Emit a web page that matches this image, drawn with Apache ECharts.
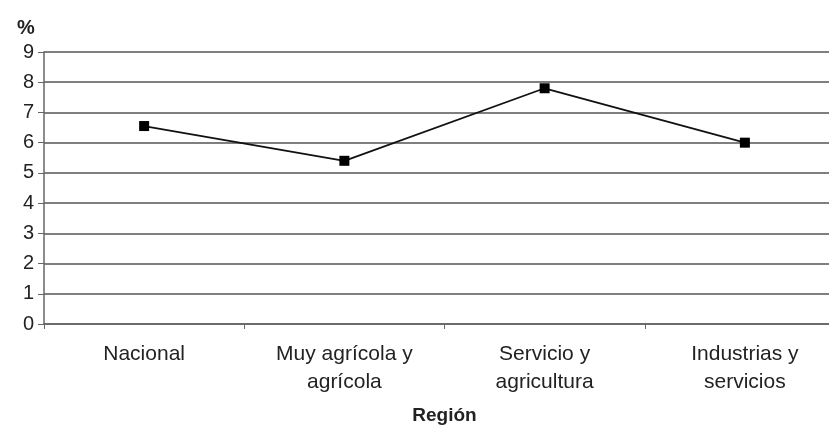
<!DOCTYPE html>
<html>
<head>
<meta charset="utf-8">
<script src="https://cdn.jsdelivr.net/npm/echarts@6/dist/echarts.min.js"></script>
<style>
  html, body { margin: 0; padding: 0; background: #fff; overflow: hidden; }
  #chart { width: 829px; height: 432px; }
</style>
</head>
<body>
<div id="chart"></div>
<script>
// regiones y porcentajes
const regiones = ['Nacional', 'Muy agrícola y\nagrícola', 'Servicio y\nagricultura', 'Industrias y\nservicios'];
const valores = [6.55, 5.4, 7.8, 6.0];
const ejeY = { min: 0, max: 9, paso: 1 };

const chart = echarts.init(document.getElementById('chart'));

const font = 'Liberation Sans, Arial, sans-serif';

chart.setOption({
  backgroundColor: '#fff',
  animation: false,
  title: {
    text: '%',
    left: 12,
    top: 13,
    textStyle: { fontFamily: font, fontSize: 20, fontWeight: 'bold', color: '#222' }
  },
  // el gráfico original está recortado a la derecha
  grid: { left: 44, top: 52, bottom: 108, right: -16, outerBoundsMode: 'none' },
  xAxis: {
    type: 'category',
    data: regiones,
    boundaryGap: true,
    name: 'Región',
    nameLocation: 'middle',
    nameGap: 82,
    nameTextStyle: { fontFamily: font, fontSize: 19, fontWeight: 'bold', color: '#222' },
    axisLine: { lineStyle: { color: '#666', width: 1.5 } },
    axisTick: { show: true, length: 5, lineStyle: { color: '#666' } },
    axisLabel: { fontFamily: font, fontSize: 21, lineHeight: 28, margin: 16, color: '#222' }
  },
  yAxis: {
    type: 'value',
    min: ejeY.min,
    max: ejeY.max,
    interval: ejeY.paso,
    axisLine: { show: true, lineStyle: { color: '#666', width: 1.5 } },
    axisTick: { show: true, length: 6, lineStyle: { color: '#666' } },
    axisLabel: { fontFamily: font, fontSize: 20, margin: 10, color: '#222' },
    splitLine: { lineStyle: { color: '#555', width: 1.5 } }
  },
  series: [
    {
      type: 'line',
      data: valores,
      symbol: 'rect',
      symbolSize: 10,
      itemStyle: { color: '#000' },
      lineStyle: { color: '#111', width: 1.8 }
    }
  ]
});
</script>
</body>
</html>
